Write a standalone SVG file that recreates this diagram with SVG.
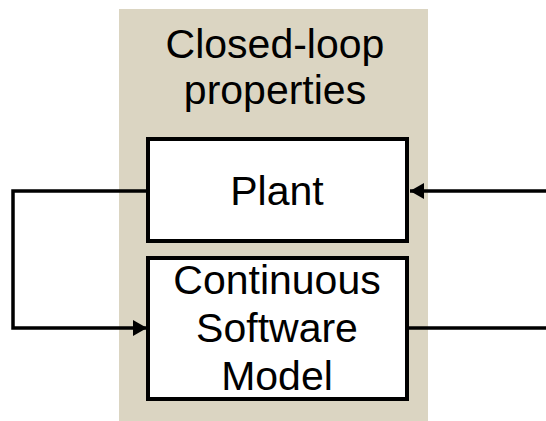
<svg xmlns="http://www.w3.org/2000/svg" width="546" height="421" viewBox="0 0 546 421">
  <style>
    .box { fill: #ffffff; stroke: #000000; stroke-width: 4; }
    .lbl { font-family: "Liberation Sans", Arial, sans-serif; font-size: 41px; fill: #000000; text-anchor: middle; }
    .wire { fill: none; stroke: #000000; stroke-width: 3.5; }
  </style>
  <defs>
    <marker id="arrow" markerWidth="14" markerHeight="16" refX="14" refY="8" orient="auto" markerUnits="userSpaceOnUse">
      <path d="M0,0 L14,8 L0,16 Z" fill="#000000"/>
    </marker>
  </defs>

  <!-- shaded region of closed-loop properties -->
  <g id="closed-loop">
    <rect x="119" y="9" width="309" height="412" fill="#dbd5c2"/>
    <text class="lbl" x="275" y="58">Closed-loop</text>
    <text class="lbl" x="275" y="104">properties</text>
  </g>

  <g id="plant">
    <rect class="box" x="148" y="139" width="259" height="102"/>
    <text class="lbl" x="277" y="205">Plant</text>
  </g>

  <g id="software-model">
    <rect class="box" x="148" y="258" width="259" height="141"/>
    <text class="lbl" x="277" y="294">Continuous</text>
    <text class="lbl" x="277" y="342">Software</text>
    <text class="lbl" x="277" y="390">Model</text>
  </g>

  <g id="connectors">
    <path class="wire" d="M146,191 L13,191 L13,328 L147,328" marker-end="url(#arrow)"/>
    <path class="wire" d="M546,191 L410,191" marker-end="url(#arrow)"/>
    <path class="wire" d="M409,328 L546,328"/>
  </g>
</svg>
